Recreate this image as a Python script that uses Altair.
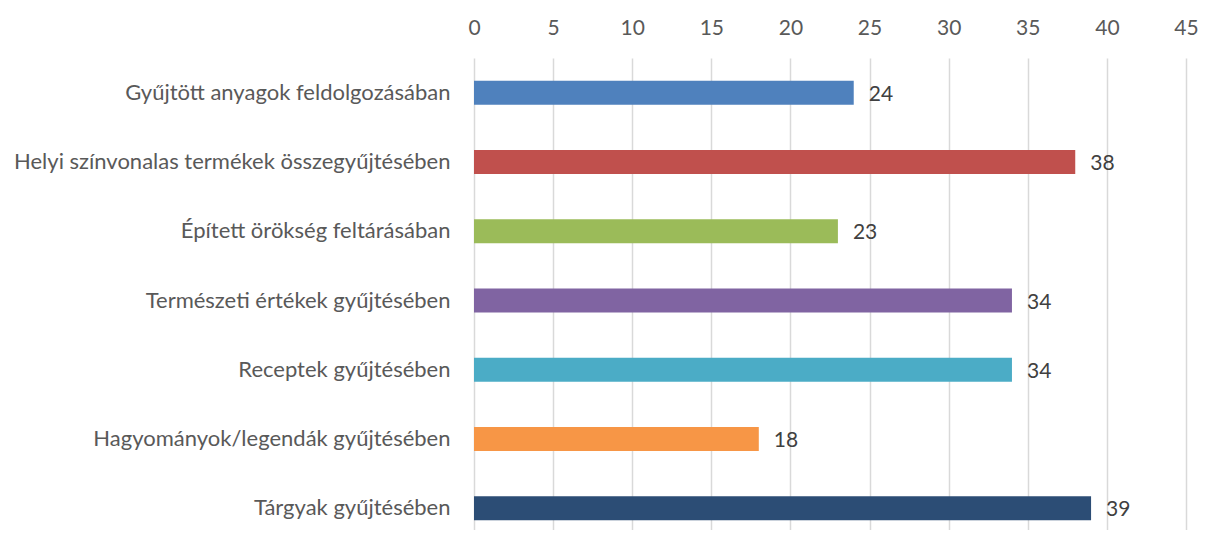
import altair as alt
import pandas as pd

categories = [
    "Gyűjtött anyagok feldolgozásában",
    "Helyi színvonalas termékek összegyűjtésében",
    "Épített örökség feltárásában",
    "Természeti értékek gyűjtésében",
    "Receptek gyűjtésében",
    "Hagyományok/legendák gyűjtésében",
    "Tárgyak gyűjtésében",
]
values = [24, 38, 23, 34, 34, 18, 39]
colors = ["#4F81BD", "#C0504D", "#9BBB59", "#8064A2", "#4BACC6", "#F79646", "#2C4D75"]

df = pd.DataFrame({"cat": categories, "val": values, "col": colors})

FONT = "Lato"

base = alt.Chart(df).encode(
    y=alt.Y("cat:N", sort=categories, title=None,
            scale=alt.Scale(paddingInner=0.0, paddingOuter=0.0, range=[0, 485]),
            axis=alt.Axis(labelFont=FONT, labelFontSize=22, labelColor="#595959",
                          labelPadding=24, domain=False, ticks=False, grid=False,
                          labelLimit=600)),
)

bars = base.mark_bar(size=24).encode(
    x=alt.X("val:Q", scale=alt.Scale(domain=[0, 45]), title=None,
            axis=alt.Axis(orient="top", values=list(range(0, 50, 5)), labelFont=FONT,
                          labelFontSize=21, labelColor="#595959", labelPadding=20,
                          labelFlush=False, labelOverlap=False,
                          domain=False, ticks=False, gridColor="#D9D9D9", gridWidth=1.5)),
    color=alt.Color("col:N", scale=None),
)

labels = base.mark_text(align="left", dx=15, dy=2, font=FONT, fontSize=21, color="#404040").encode(
    x="val:Q", text="val:Q"
)

chart = (bars + labels).properties(
    width=712, height=472,
    background="white",
    autosize=alt.AutoSizeParams(type="none"),
    padding={"left": 466, "top": 50, "right": 12, "bottom": 0},
).configure_view(stroke=None)

chart.save("out.html", embed_options={"renderer": "svg", "actions": False})
